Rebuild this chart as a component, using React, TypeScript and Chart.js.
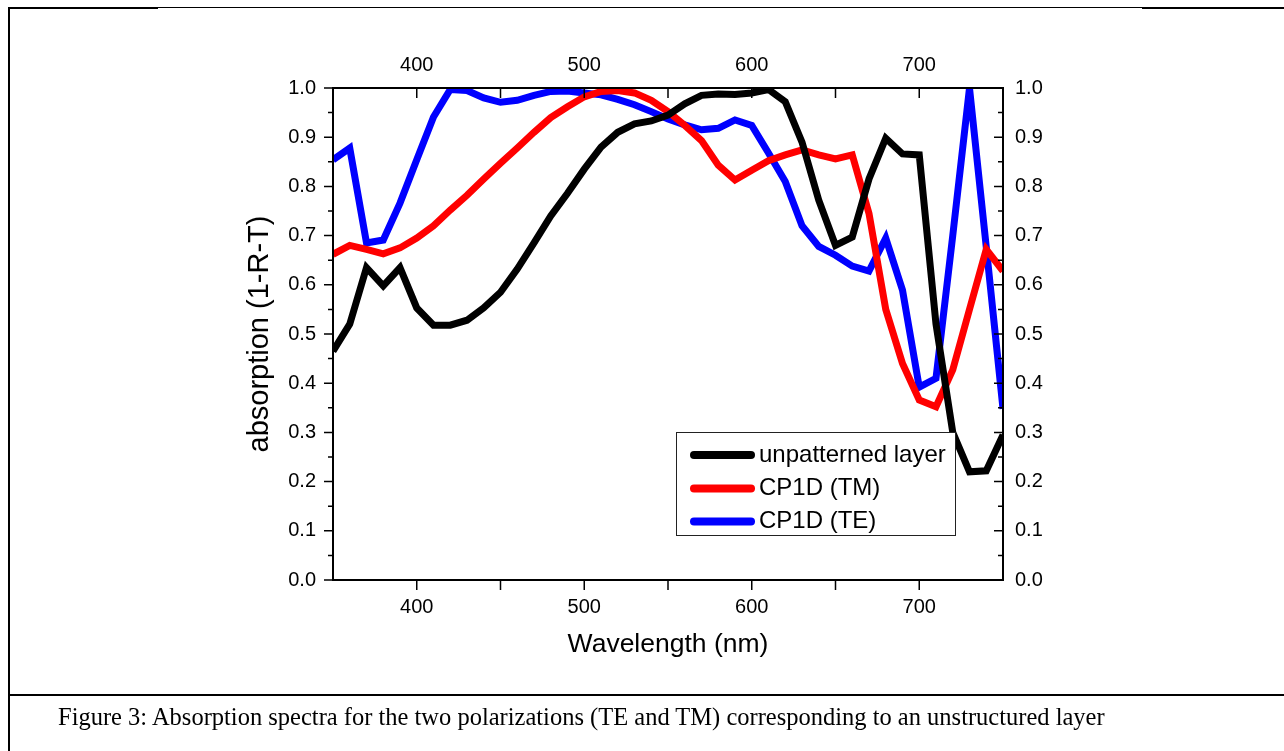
import React, { useEffect, useRef } from "react";
import { Chart, registerables } from "chart.js";

Chart.register(...registerables);

// ---------- data ----------
const wavelengths = [
  350, 360, 370, 380, 390, 400, 410, 420, 430, 440, 450, 460, 470, 480, 490, 500,
  510, 520, 530, 540, 550, 560, 570, 580, 590, 600, 610, 620, 630, 640, 650, 660,
  670, 680, 690, 700, 710, 720, 730, 740, 750,
];

const unpatternedLayer = [
  0.465, 0.52, 0.635, 0.598, 0.635, 0.553, 0.518, 0.518, 0.528, 0.553, 0.585, 0.632,
  0.685, 0.74, 0.786, 0.835, 0.88, 0.91, 0.927, 0.933, 0.945, 0.968, 0.985, 0.988,
  0.987, 0.99, 0.997, 0.972, 0.89, 0.772, 0.68, 0.697, 0.815, 0.898, 0.866, 0.864,
  0.52, 0.3, 0.22, 0.222, 0.295,
];

const cp1dTM = [
  0.662, 0.68, 0.672, 0.663, 0.675, 0.695, 0.72, 0.752, 0.782, 0.815, 0.847, 0.878,
  0.91, 0.94, 0.962, 0.982, 0.993, 0.995, 0.99, 0.975, 0.952, 0.924, 0.893, 0.843,
  0.813, 0.833, 0.852, 0.864, 0.874, 0.864, 0.856, 0.864, 0.745, 0.55, 0.44, 0.366,
  0.352, 0.427, 0.55, 0.672, 0.628,
];

const cp1dTE = [
  0.854, 0.878, 0.685, 0.691, 0.766, 0.854, 0.941, 0.997, 0.995, 0.98, 0.971, 0.975,
  0.985, 0.993, 0.994, 0.99, 0.986, 0.977, 0.966, 0.952, 0.937, 0.925, 0.915, 0.918,
  0.935, 0.924, 0.868, 0.81, 0.72, 0.678, 0.66, 0.638, 0.628, 0.695, 0.589, 0.392,
  0.41, 0.7, 1.0, 0.677, 0.348,
];

const seriesNames = ["unpatterned layer", "CP1D (TM)", "CP1D (TE)"];
const seriesColors = ["#000000", "#ff0000", "#0000ff"];

const xTickValues = [400, 500, 600, 700];
const yTickValues = [0.0, 0.1, 0.2, 0.3, 0.4, 0.5, 0.6, 0.7, 0.8, 0.9, 1.0];

const xTitle = "Wavelength (nm)";
const yTitle = "absorption (1-R-T)";
const caption =
  "Figure 3: Absorption spectra for the two polarizations (TE and TM) corresponding to an unstructured layer";

// ---------- layout / style ----------
const SANS = '"Liberation Sans", Arial, Helvetica, sans-serif';
const SERIF = '"Liberation Serif", "Times New Roman", Times, serif';
const W = 1284;
const H = 751;
const PLOT = { left: 333, right: 1003, top: 88, bottom: 580 };
const PAD = { left: 238, right: 200, top: 20, bottom: 80 };

const frameTicksPlugin = {
  id: "frameTicks",
  afterDatasetsDraw(chart: any) {
    const { ctx, chartArea: a, scales } = chart;
    const xs = scales.x;
    const ys = scales.y;
    ctx.save();
    ctx.strokeStyle = "#000";
    ctx.lineCap = "butt";
    ctx.lineWidth = 1.5;
    ctx.beginPath();
    const yPos: number[] = [];
    const yMinor: number[] = [];
    for (let i = 0; i < yTickValues.length; i++) {
      yPos.push(ys.getPixelForValue(yTickValues[i]));
      if (i > 0) yMinor.push(ys.getPixelForValue((yTickValues[i] + yTickValues[i - 1]) / 2));
    }
    for (const p of yPos) {
      ctx.moveTo(a.left - 9, p);
      ctx.lineTo(a.left, p);
      ctx.moveTo(a.right, p);
      ctx.lineTo(a.right - 9, p);
    }
    for (const p of yMinor) {
      ctx.moveTo(a.left - 5, p);
      ctx.lineTo(a.left, p);
      ctx.moveTo(a.right, p);
      ctx.lineTo(a.right - 5, p);
    }
    const xPos: number[] = [];
    for (let i = 0; i < xTickValues.length; i++) {
      xPos.push(xs.getPixelForValue(xTickValues[i]));
      if (i > 0) xPos.push(xs.getPixelForValue((xTickValues[i] + xTickValues[i - 1]) / 2));
    }
    for (const p of xPos) {
      ctx.moveTo(p, a.bottom);
      ctx.lineTo(p, a.bottom + 10);
      ctx.moveTo(p, a.top);
      ctx.lineTo(p, a.top + 10);
    }
    ctx.stroke();
    ctx.lineWidth = 2;
    ctx.strokeRect(a.left, a.top, a.right - a.left, a.bottom - a.top);
    ctx.restore();
  },
};

const legendBoxPlugin = {
  id: "legendBox",
  afterDraw(chart: any) {
    const { ctx, chartArea: a } = chart;
    const bx = a.left + 343;
    const by = a.top + 344;
    const bw = 279;
    const bh = 103;
    ctx.save();
    ctx.fillStyle = "#fff";
    ctx.fillRect(bx, by, bw, bh);
    ctx.strokeStyle = "#222";
    ctx.lineWidth = 1;
    ctx.strokeRect(bx + 0.5, by + 0.5, bw, bh);
    const rows = [23, 56.5, 89.5];
    chart.data.datasets.forEach((ds: any, i: number) => {
      const y = by + rows[i];
      ctx.strokeStyle = ds.borderColor;
      ctx.lineWidth = 8;
      ctx.lineCap = "round";
      ctx.beginPath();
      ctx.moveTo(bx + 18, y);
      ctx.lineTo(bx + 75, y);
      ctx.stroke();
      ctx.fillStyle = "#000";
      ctx.font = `24px ${SANS}`;
      ctx.textBaseline = "middle";
      ctx.textAlign = "left";
      ctx.fillText(ds.label, bx + 83, y);
    });
    ctx.restore();
  },
};

function ChartCanvas() {
  const ref = useRef<HTMLCanvasElement | null>(null);
  useEffect(() => {
    const canvas = ref.current;
    if (!canvas) return;
    const tickFont = { family: SANS, size: 20 };
    const seriesValues = [unpatternedLayer, cp1dTM, cp1dTE];
    const datasets = seriesValues.map((vals, i) => ({
      label: seriesNames[i],
      data: wavelengths.map((w, j) => ({ x: w, y: vals[j] })),
      borderColor: seriesColors[i],
      backgroundColor: seriesColors[i],
      borderWidth: 7,
      pointRadius: 0,
      pointHoverRadius: 0,
      tension: 0,
      fill: false,
      clip: 0,
      xAxisID: "x",
      yAxisID: "y",
    }));
    const xBase = {
      type: "linear",
      min: 350,
      max: 750,
      afterBuildTicks: (s: any) => {
        s.ticks = xTickValues.map((v) => ({ value: v }));
      },
      grid: { display: false, drawTicks: false },
      border: { display: false },
    };
    const yBase = {
      type: "linear",
      min: 0,
      max: 1,
      afterBuildTicks: (s: any) => {
        s.ticks = yTickValues.map((v) => ({ value: v }));
      },
      grid: { display: false, drawTicks: false },
      border: { display: false },
    };
    const chart = new Chart(canvas, {
      type: "line",
      data: { datasets },
      options: {
        animation: false,
        responsive: false,
        maintainAspectRatio: false,
        devicePixelRatio: 1,
        events: [],
        layout: { padding: PAD, autoPadding: false },
        plugins: {
          legend: { display: false },
          tooltip: { enabled: false },
        },
        scales: {
          x: {
            ...xBase,
            position: "bottom",
            ticks: {
              font: tickFont,
              color: "#000",
              padding: 15,
              maxRotation: 0,
              autoSkip: false,
              callback: (v: any) => String(v),
            },
            title: {
              display: true,
              text: xTitle,
              color: "#000",
              font: { family: SANS, size: 26.5 },
              padding: { top: 0, bottom: 10 },
            },
            afterFit: (s: any) => {
              s.height = H - PAD.bottom - PLOT.bottom;
            },
          },
          x2: {
            ...xBase,
            axis: "x",
            position: "top",
            ticks: {
              font: tickFont,
              color: "#000",
              padding: 11,
              maxRotation: 0,
              autoSkip: false,
              callback: (v: any) => String(v),
            },
            afterFit: (s: any) => {
              s.height = PLOT.top - PAD.top;
            },
          },
          y: {
            ...yBase,
            position: "left",
            ticks: {
              font: tickFont,
              color: "#000",
              padding: 17,
              autoSkip: false,
              callback: (v: any) => Number(v).toFixed(1),
            },
            title: {
              display: true,
              text: yTitle,
              color: "#000",
              font: { family: SANS, size: 29 },
              padding: { top: 5, bottom: 0 },
            },
            afterFit: (s: any) => {
              s.width = PLOT.left - PAD.left;
            },
          },
          y2: {
            ...yBase,
            axis: "y",
            position: "right",
            ticks: {
              font: tickFont,
              color: "#000",
              padding: 12,
              autoSkip: false,
              callback: (v: any) => Number(v).toFixed(1),
            },
            afterFit: (s: any) => {
              s.width = W - PAD.right - PLOT.right;
            },
          },
        },
      } as any,
      plugins: [frameTicksPlugin, legendBoxPlugin],
    });
    return () => chart.destroy();
  }, []);
  return (
    <canvas
      ref={ref}
      width={W}
      height={H}
      style={{ position: "absolute", left: 0, top: 0, width: W, height: H }}
    />
  );
}

export default function App() {
  const line = (style: React.CSSProperties) => (
    <div style={{ position: "absolute", background: "#000", ...style }} />
  );
  return (
    <div
      style={{
        position: "absolute",
        left: 0,
        top: 0,
        width: W,
        height: H,
        background: "#fff",
        overflow: "hidden",
      }}
    >
      <ChartCanvas />
      {line({ left: 8, top: 7, width: 150, height: 2 })}
      {line({ left: 157, top: 7, width: 986, height: 1 })}
      {line({ left: 1142, top: 7, width: 142, height: 2 })}
      {line({ left: 8, top: 7, width: 2, height: H - 7 })}
      {line({ left: 8, top: 694, width: W - 8, height: 2 })}
      <div
        style={{
          position: "absolute",
          left: 58,
          top: 705,
          fontFamily: SERIF,
          fontSize: 24.5,
          lineHeight: 1,
          color: "#000",
          whiteSpace: "nowrap",
        }}
      >
        {caption}
      </div>
    </div>
  );
}
